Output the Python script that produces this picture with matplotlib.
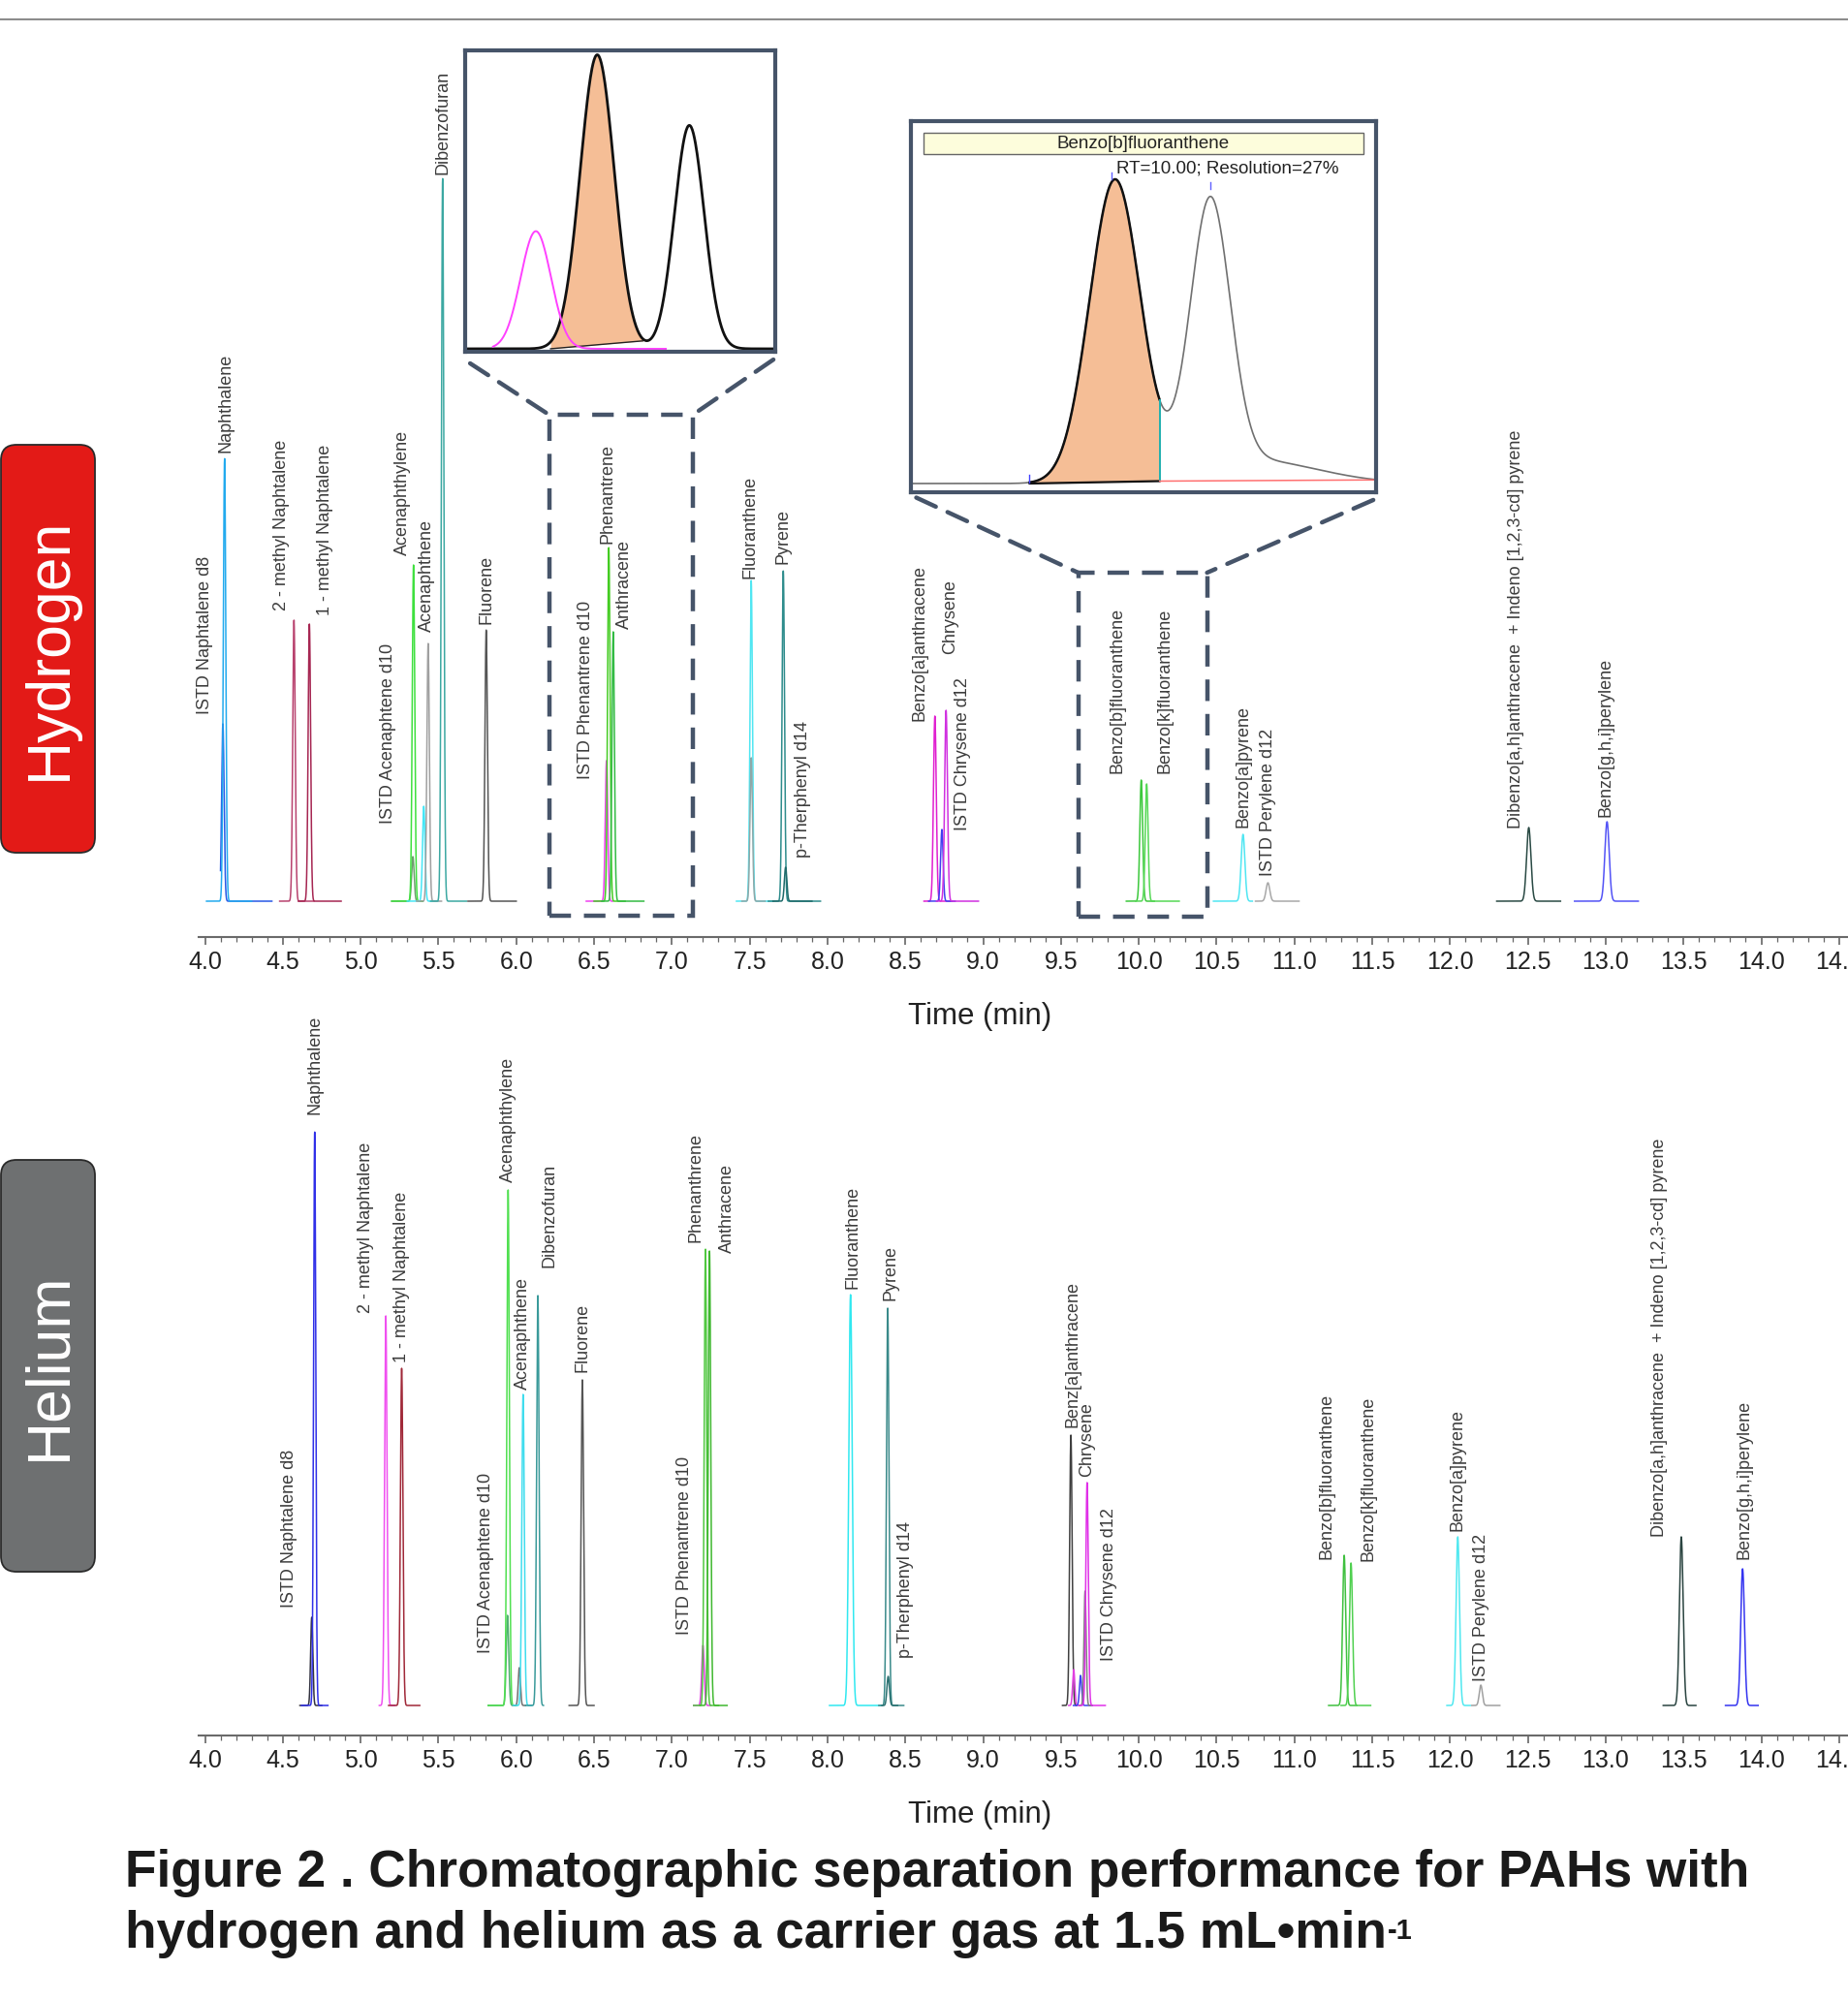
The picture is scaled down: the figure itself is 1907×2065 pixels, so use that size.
import matplotlib
matplotlib.use('Agg')
import matplotlib.pyplot as plt
import numpy as np
from matplotlib.patches import Rectangle, FancyBboxPatch, ConnectionPatch
from matplotlib.ticker import MultipleLocator, FormatStrFormatter

plt.rcParams['font.family'] = ['Liberation Sans', 'DejaVu Sans']

W, H = 1908, 2065

# ---------------- Hydrogen chromatogram (response in arbitrary units) ----------------
h2_names = ['ISTD Naphtalene d8', 'Naphthalene', '2 - methyl Naphtalene', '1 - methyl Naphtalene',
            'ISTD Acenaphtene d10', 'Acenaphthylene', '', 'Acenaphthene', 'Dibenzofuran', 'Fluorene',
            'ISTD Phenantrene d10', 'Phenantrene', 'Anthracene', 'Fluoranthene', '', 'Pyrene',
            'p-Therphenyl d14', 'Benzo[a]anthracene', 'ISTD Chrysene d12', 'Chrysene',
            'Benzo[b]fluoranthene', 'Benzo[k]fluoranthene', 'Benzo[a]pyrene', 'ISTD Perylene d12',
            'Dibenzo[a,h]anthracene  + Indeno [1,2,3-cd] pyrene', 'Benzo[g,h,i]perylene']
h2_rt = [4.115, 4.126, 4.572, 4.671, 5.336, 5.340, 5.406, 5.434, 5.527, 5.807,
         6.580, 6.595, 6.623, 7.510, 7.510, 7.716, 7.731, 8.690, 8.735, 8.762,
         10.016, 10.051, 10.670, 10.830, 12.506, 13.009]
h2_height = [183, 457, 290, 286, 46, 347, 98, 266, 746, 280,
             145, 365, 278, 331, 148, 341, 35, 191, 74, 197,
             125, 121, 69, 19, 76, 82]
h2_sigma = [0.008, 0.008, 0.008, 0.008, 0.008, 0.008, 0.008, 0.008, 0.008, 0.008,
            0.008, 0.008, 0.008, 0.008, 0.008, 0.008, 0.008, 0.009, 0.008, 0.009,
            0.009, 0.009, 0.012, 0.012, 0.014, 0.014]
h2_lo = [4.10, 4.01, 4.48, 4.60, 5.20, 5.20, 5.30, 5.36, 5.45, 5.69,
         6.45, 6.50, 6.55, 7.415, 7.45, 7.62, 7.65, 8.62, 8.65, 8.70,
         9.92, 9.98, 10.48, 10.75, 12.30, 12.80]
h2_hi = [4.43, 4.30, 4.70, 4.875, 5.40, 5.40, 5.50, 5.52, 5.68, 6.00,
         6.62, 6.70, 6.82, 7.65, 7.60, 7.955, 7.90, 8.80, 8.82, 8.97,
         10.10, 10.26, 10.73, 11.03, 12.71, 13.21]
h2_colors = ['#2858e6', '#22aaee', '#b8426e', '#a62652', '#6e9e6e', '#3ee03e', '#44e6f6', '#a0a0a0',
             '#3ca8a2', '#555555', '#f040f0', '#44cc22', '#33bb44', '#50e6f2', '#8fa8a8', '#2e8c8c',
             '#1e6a6a', '#e020d0', '#4040f0', '#d030e0', '#3cc83c', '#55d855', '#50e6f2', '#a8a8a8',
             '#2a4a44', '#5252f6']
# label placement: shift in minutes, gap above apex in response units
h2_lab_dx = [-0.114, 0.008, -0.083, 0.098, -0.162, -0.073, 0, -0.006, 0.0, 0.0,
             -0.135, -0.01, 0.07, -0.01, 0, 0.0, 0.11, -0.10, 0.134, 0.025,
             -0.152, 0.115, 0.0, 0.0, -0.083, -0.01]
h2_lab_gap = [10, 6, 10, 9, 34, 10, 0, 12, 4, 6,
              -19, 4, 3, 2, 0, 7, 10, -5, -1, 58,
              7, 11, 7, 7, -1, 5]

# ---------------- Helium chromatogram ----------------
he_names = ['ISTD Naphtalene d8', 'Naphthalene', '2 - methyl Naphtalene', '1 - methyl Naphtalene',
            'ISTD Acenaphtene d10', 'Acenaphthylene', '', 'Acenaphthene', 'Dibenzofuran', 'Fluorene',
            'ISTD Phenantrene d10', 'Phenanthrene', 'Anthracene', 'Fluoranthene', 'Pyrene',
            'p-Therphenyl d14', 'Benz[a]anthracene', '', 'ISTD Chrysene d12', '', 'Chrysene',
            'Benzo[b]fluoranthene', 'Benzo[k]fluoranthene', 'Benzo[a]pyrene', 'ISTD Perylene d12',
            'Dibenzo[a,h]anthracene  + Indeno [1,2,3-cd] pyrene', 'Benzo[g,h,i]perylene']
he_rt = [4.686, 4.705, 5.162, 5.264, 5.944, 5.948, 6.020, 6.044, 6.139, 6.425,
         7.200, 7.216, 7.242, 8.148, 8.387, 8.390, 9.564, 9.582, 9.626, 9.655, 9.668,
         11.320, 11.364, 12.050, 12.198, 13.486, 13.880]
he_height = [91, 592, 402, 348, 93, 532, 39, 321, 423, 336,
             62, 471, 469, 424, 410, 30, 279, 37, 31, 118, 230,
             155, 147, 174, 21, 174, 141]
he_sigma = [0.007, 0.007, 0.008, 0.008, 0.008, 0.008, 0.007, 0.008, 0.008, 0.008,
            0.008, 0.008, 0.008, 0.011, 0.008, 0.008, 0.008, 0.007, 0.007, 0.007, 0.008,
            0.010, 0.010, 0.011, 0.010, 0.012, 0.012]
he_lo = [4.61, 4.62, 5.12, 5.18, 5.82, 5.82, 5.98, 5.98, 6.06, 6.34,
         7.14, 7.14, 7.18, 8.013, 8.33, 8.35, 9.51, 9.55, 9.58, 9.62, 9.62,
         11.22, 11.30, 11.98, 12.14, 13.37, 13.77]
he_hi = [4.75, 4.79, 5.22, 5.38, 6.00, 6.00, 6.06, 6.10, 6.175, 6.50,
         7.25, 7.30, 7.355, 8.343, 8.49, 8.45, 9.60, 9.62, 9.70, 9.70, 9.785,
         11.40, 11.49, 12.13, 12.32, 13.58, 13.98]
he_colors = ['#333340', '#3030e8', '#f050f0', '#a02838', '#50b070', '#50e050', '#707070', '#40ddee',
             '#3a9a9a', '#555555', '#e040e0', '#50c840', '#40b830', '#30e8f0', '#3a8a8a', '#2a7070',
             '#404040', '#e040e0', '#4040f0', '#808080', '#e030e8', '#40c040', '#50d050', '#50e8f0',
             '#a0a0a0', '#2a4440', '#3434f0']
he_lab_dx = [-0.143, 0.0, -0.126, 0.0, -0.138, 0.0, 0, 0.0, 0.072, 0.0,
             -0.119, -0.064, 0.112, 0.012, 0.02, 0.11, 0.012, 0, 0.184, 0, 0.0,
             -0.113, 0.109, 0.0, 0.0, -0.137, 0.012]
he_lab_gap = [10, 18, 3, 6, -39, 8, 0, 5, 29, 8,
              11, 7, -2, 6, 8, 19, 8, 0, 15, 0, 6,
              -4, 2, 6, 4, 0, 10]

# ---------------- Inset 1 (phenanthrene / anthracene detail) ----------------
in1_rt = [6.5628, 6.5826, 6.6123]        # ISTD (pink), phenanthrene, anthracene
in1_height = [40, 100, 76]
in1_sigma = [0.0049, 0.0055, 0.0048]
in1_range = [6.540, 6.640]
in1_istd_window = [6.549, 6.6047]
in1_fill = [6.5674, 6.5974]
in1_fill_base = [0.0, 2.7]

# ---------------- Inset 2 (benzo[b]/[k]fluoranthene detail) ----------------
in2_rt = [10.000, 10.050, 10.070]         # B[b]F, B[k]F, tailing
in2_height = [100, 88.5, 8]
in2_sigma = [0.0133, 0.0104, 0.035]
in2_range = [9.893, 10.137]
in2_fill = [9.955, 10.0235]
in2_base = [0.0, 0.8, 1.2]

# x-axis mapping (minutes)
T0, T1 = 3.9595, 14.6

fig = plt.figure(figsize=(W / 100, H / 100), dpi=100)

# overlay in pixel units for decorations
ov = fig.add_axes([0, 0, 1, 1])
ov.set_xlim(0, W)
ov.set_ylim(0, H)
ov.axis('off')
ov.plot([0, W], [H - 20, H - 20], color='#8c8c8c', lw=1.5)

for y_top, y_bot, col, txt in [(459, 880, '#e31a17', 'Hydrogen'), (1197, 1622, '#6e7071', 'Helium')]:
    box = FancyBboxPatch((1, H - y_bot), 97, y_bot - y_top,
                         boxstyle='round,pad=0,rounding_size=16',
                         facecolor=col, edgecolor='#2a2a2a', lw=1.3)
    ov.add_patch(box)
    ov.text(51, H - (y_top + y_bot) / 2, txt, rotation=90, color='white',
            fontsize=45, ha='center', va='center')


def draw_panel(ax, names, rt, hgt, sig, lo, hi, colors, dx, gap):
    for i in range(len(rt)):
        t = np.linspace(lo[i], hi[i], 400)
        y = hgt[i] * np.exp(-0.5 * ((t - rt[i]) / sig[i]) ** 2)
        ax.plot(t, y, color=colors[i], lw=1.1, solid_joinstyle='round')
    for i in range(len(rt)):
        if names[i]:
            ax.text(rt[i] + dx[i], hgt[i] + gap[i], names[i], rotation=90,
                    ha='center', va='bottom', fontsize=13, color='#3c3c3c', clip_on=False)


def style_axis(ax):
    ax.set_xlim(T0, T1)
    for s in ['top', 'left', 'right']:
        ax.spines[s].set_visible(False)
    ax.spines['bottom'].set_color('#6a6a6a')
    ax.spines['bottom'].set_linewidth(1.5)
    ax.set_yticks([])
    ax.xaxis.set_major_locator(MultipleLocator(0.5))
    ax.xaxis.set_minor_locator(MultipleLocator(0.1))
    ax.xaxis.set_major_formatter(FormatStrFormatter('%.1f'))
    ax.tick_params(axis='x', which='major', length=6, width=1.2, color='#666666',
                   labelsize=18, labelcolor='#222222', pad=4)
    ax.tick_params(axis='x', which='minor', length=3.5, width=0.9, color='#666666')
    ax.patch.set_visible(False)


ax_h = fig.add_axes([205 / W, (H - 967) / H, (T1 - T0) * 160.6 / W, 927 / H])
ax_h.set_ylim(-37, 890)
style_axis(ax_h)
draw_panel(ax_h, h2_names, h2_rt, h2_height, h2_sigma, h2_lo, h2_hi, h2_colors, h2_lab_dx, h2_lab_gap)

ax_e = fig.add_axes([205 / W, (H - 1791) / H, (T1 - T0) * 160.6 / W, 691 / H])
ax_e.set_ylim(-31, 660)
style_axis(ax_e)
draw_panel(ax_e, he_names, he_rt, he_height, he_sigma, he_lo, he_hi, he_colors, he_lab_dx, he_lab_gap)

ov.text(1011, H - 1049, 'Time (min)', ha='center', va='center', fontsize=22.5, color='#222222')
ov.text(1011, H - 1873, 'Time (min)', ha='center', va='center', fontsize=22.5, color='#222222')

# dashed zoom regions on hydrogen trace
frame_col = '#465469'
dash = (0, (5, 3))
r1 = (6.211, 7.135, -15, 502)
r2 = (9.611, 10.439, -16, 339)
for x0, x1, y0, y1 in [r1, r2]:
    ax_h.add_patch(Rectangle((x0, y0), x1 - x0, y1 - y0, fill=False, edgecolor=frame_col,
                             lw=3.2, linestyle=dash, clip_on=False, zorder=5))

# ---------------- inset 1 ----------------
ins1 = fig.add_axes([480 / W, (H - 363.3) / H, 320 / W, 311.6 / H])
ins1.set_xlim(*in1_range)
ins1.set_ylim(-1.1, 101.6)
t = np.linspace(in1_range[0], in1_range[1], 600)
black = sum(in1_height[k] * np.exp(-0.5 * ((t - in1_rt[k]) / in1_sigma[k]) ** 2) for k in (1, 2))
mask = (t >= in1_fill[0]) & (t <= in1_fill[1])
base = np.interp(t[mask], in1_fill, in1_fill_base)
ins1.fill_between(t[mask], base, black[mask], color='#f5be96', lw=0)
ins1.plot(t[mask], base, color='#222222', lw=1.0)
tp = np.linspace(in1_istd_window[0], in1_istd_window[1], 300)
ins1.plot(t, black, color='#111111', lw=2.0)
ins1.plot(tp, in1_height[0] * np.exp(-0.5 * ((tp - in1_rt[0]) / in1_sigma[0]) ** 2),
          color='#ff40ff', lw=1.4)
ins1.set_xticks([])
ins1.set_yticks([])
for s in ins1.spines.values():
    s.set_color(frame_col)
    s.set_linewidth(3)

# ---------------- inset 2 ----------------
ins2 = fig.add_axes([940 / W, (H - 508.3) / H, 480 / W, 383.3 / H])
ins2.set_xlim(*in2_range)
ins2.set_ylim(-3.0, 120.4)
t = np.linspace(in2_range[0], in2_range[1], 800)
sig = sum(in2_height[k] * np.exp(-0.5 * ((t - in2_rt[k]) / in2_sigma[k]) ** 2) for k in range(3))
mask = (t >= in2_fill[0]) & (t <= in2_fill[1])
base = np.interp(t[mask], in2_fill, in2_base[:2])
ins2.plot(t, sig, color='#707070', lw=1.2)
ins2.fill_between(t[mask], base, sig[mask], color='#f5be96', lw=0)
ins2.plot(t[mask], sig[mask], color='#111111', lw=1.8)
ins2.plot(t[mask], base, color='#111111', lw=1.6)
drop_y = np.interp(in2_fill[1], t, sig)
ins2.plot([in2_fill[1], in2_fill[1]], [in2_base[1], drop_y], color='#20b0b0', lw=1.4)
ins2.plot([in2_fill[1], in2_range[1]], [in2_base[1], in2_base[2]], color='#ff7070', lw=1.1)
ins2.plot([in2_fill[0], in2_fill[0]], [0.2, 2.9], color='#4040ff', lw=1.0)
ins2.plot([9.998, 9.998], [101, 103.2], color='#6060ff', lw=1.0)
ins2.plot([10.050, 10.050], [97.9, 100.0], color='#6060ff', lw=1.0)
ins2.add_patch(Rectangle((0.028, 0.9105), 0.944, 0.0575, transform=ins2.transAxes,
                         facecolor='#fdfddc', edgecolor='#666666', lw=1.0))
ins2.text(0.5, 0.939, 'Benzo[b]fluoranthene', transform=ins2.transAxes, ha='center',
          va='center', fontsize=13.5, color='#222222')
ins2.text(0.441, 0.872, 'RT=10.00; Resolution=27%', transform=ins2.transAxes, ha='left',
          va='center', fontsize=13.5, color='#222222')
ins2.set_xticks([])
ins2.set_yticks([])
for s in ins2.spines.values():
    s.set_color(frame_col)
    s.set_linewidth(3)

# connectors from insets to dashed regions
for ins, pa, pb in [(ins1, (0.016, -0.0375), (r1[0], r1[3])), (ins1, (0.994, -0.025), (r1[1], r1[3])),
                    (ins2, (0.0115, -0.0136), (r2[0], r2[3])), (ins2, (0.994, -0.02), (r2[1], r2[3]))]:
    con = ConnectionPatch(xyA=pa, coordsA='axes fraction', axesA=ins,
                          xyB=pb, coordsB='data', axesB=ax_h,
                          color=frame_col, lw=3.2, linestyle=dash)
    fig.add_artist(con)

# caption
ov.text(128.8, H - 1946.7, 'Figure 2 . Chromatographic separation performance for PAHs with',
        fontsize=38.3, fontweight='bold', ha='left', va='baseline', color='#1a1a1a')
cap2 = ov.text(128.8, H - 2010, 'hydrogen and helium as a carrier gas at 1.5 mL\u2022min',
               fontsize=38.3, fontweight='bold', ha='left', va='baseline', color='#1a1a1a')
fig.canvas.draw()
bb = cap2.get_window_extent()
ov.text(bb.x1 + 1, H - 1979, '-1', fontsize=21, fontweight='bold', ha='left', va='top',
        color='#1a1a1a')

fig.savefig('out.png', dpi=100)
